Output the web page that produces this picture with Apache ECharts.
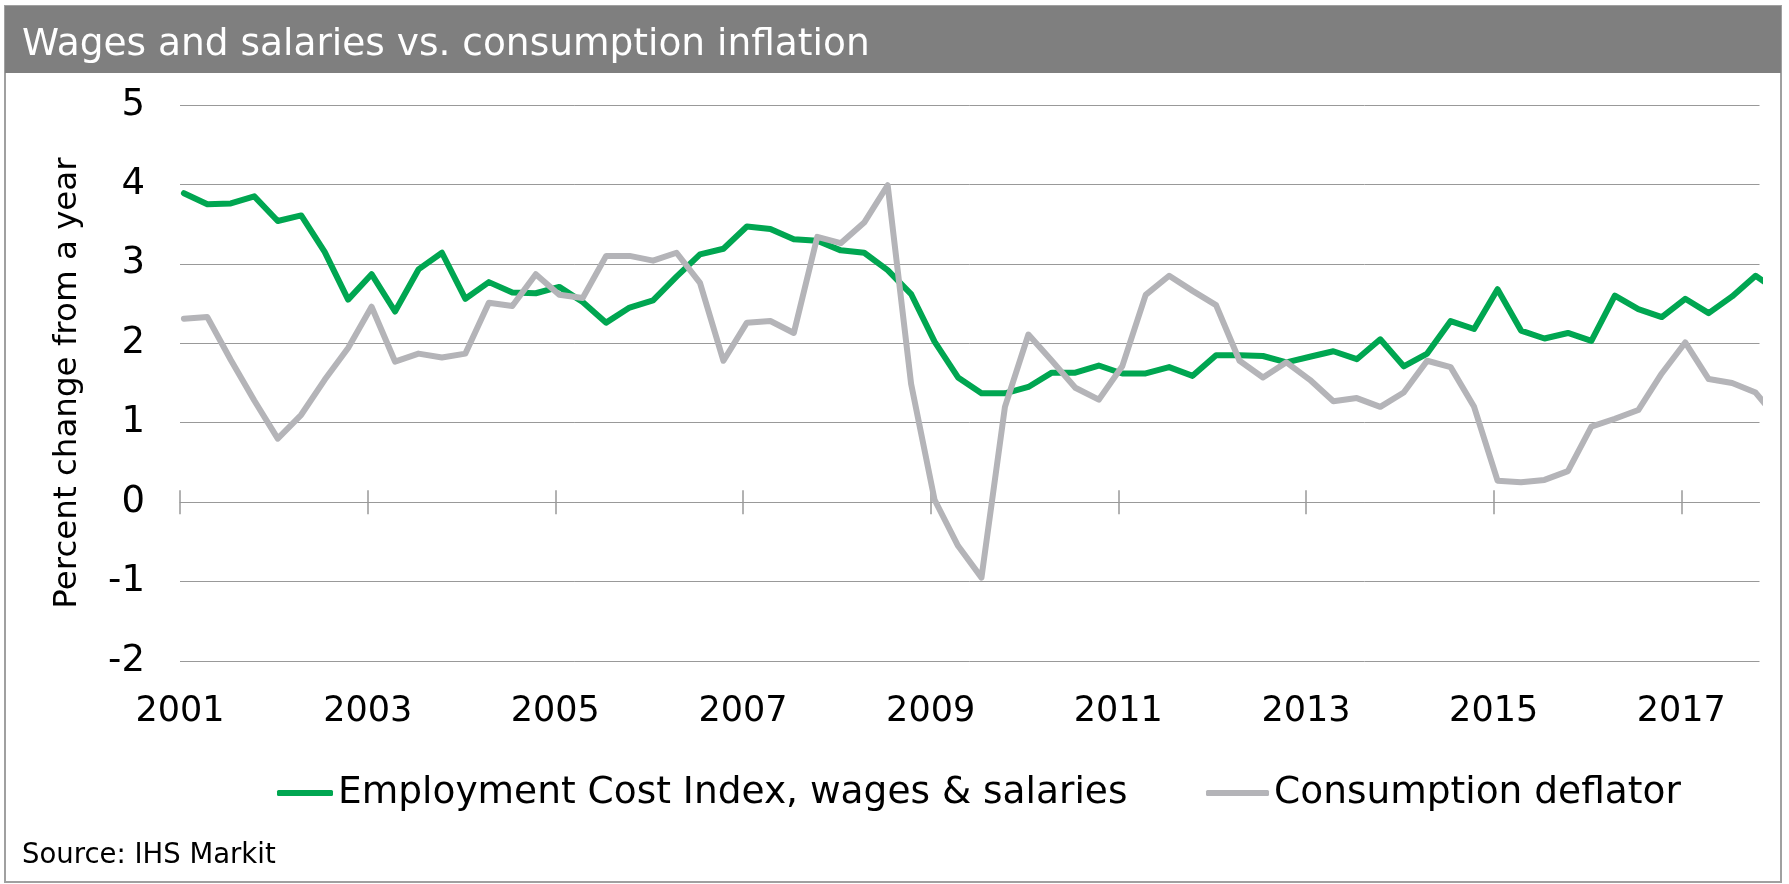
<!DOCTYPE html>
<html>
<head>
<meta charset="utf-8">
<script src="https://cdn.jsdelivr.net/npm/echarts@6/dist/echarts.min.js"></script>
<style>
html,body{margin:0;padding:0;background:#ffffff;}
#chart{width:1789px;height:884px;}
</style>
</head>
<body>
<div id="chart"></div>
<script>
// Quarterly periods, 2001Q1 .. 2018Q1 (the last one is cut by the axis end)
const startYear = 2001;
const endYear = 2018;
const quarters = [];
for (let y = startYear; y <= endYear; y++) {
  for (let q = 1; q <= 4; q++) {
    if (y === endYear && q > 1) break;
    quarters.push(y + 'Q' + q);
  }
}

// Employment Cost Index, wages & salaries (% change from a year)
const eci = [
  3.89, 3.75, 3.76, 3.85,   // 2001
  3.54, 3.61, 3.15, 2.55,   // 2002
  2.87, 2.40, 2.93, 3.14,   // 2003
  2.56, 2.77, 2.64, 2.63,   // 2004
  2.71, 2.52, 2.26, 2.45,   // 2005
  2.54, 2.84, 3.12, 3.19,   // 2006
  3.47, 3.44, 3.31, 3.29,   // 2007
  3.17, 3.14, 2.92, 2.62,   // 2008
  2.02, 1.57, 1.37, 1.37,   // 2009
  1.45, 1.63, 1.63, 1.72,   // 2010
  1.62, 1.62, 1.70, 1.59,   // 2011
  1.85, 1.85, 1.84, 1.76,   // 2012
  1.83, 1.90, 1.80, 2.05,   // 2013
  1.71, 1.87, 2.28, 2.18,   // 2014
  2.68, 2.16, 2.06, 2.13,   // 2015
  2.03, 2.60, 2.43, 2.33,   // 2016
  2.56, 2.38, 2.59, 2.85,   // 2017
  2.65                      // 2018Q1
];

// Consumption deflator (% change from a year)
const deflator = [
  2.31, 2.33, 1.79, 1.28,   // 2001
  0.80, 1.10, 1.54, 1.94,   // 2002
  2.46, 1.77, 1.87, 1.82,   // 2003
  1.87, 2.51, 2.47, 2.87,   // 2004
  2.61, 2.57, 3.10, 3.10,   // 2005
  3.04, 3.14, 2.76, 1.78,   // 2006
  2.26, 2.28, 2.13, 3.34,   // 2007
  3.26, 3.52, 3.99, 1.49,   // 2008
  0.03, -0.55, -0.95, 1.20, // 2009
  2.11, 1.78, 1.44, 1.29,   // 2010
  1.71, 2.61, 2.85, 2.66,   // 2011
  2.48, 1.78, 1.57, 1.76,   // 2012
  1.54, 1.27, 1.31, 1.20,   // 2013
  1.38, 1.78, 1.70, 1.20,   // 2014
  0.27, 0.25, 0.28, 0.39,   // 2015
  0.95, 1.05, 1.16, 1.62,   // 2016
  2.01, 1.55, 1.50, 1.38,   // 2017
  1.02                      // 2018Q1
];

const yTicks = [-2, -1, 0, 1, 2, 3, 4, 5];
const xTickYears = [2001, 2003, 2005, 2007, 2009, 2011, 2013, 2015, 2017];
const axisEndYear = 2017, axisEndMonth = 10; // date axis ends after Oct 2017

const seriesNames = ['Employment Cost Index, wages & salaries', 'Consumption deflator'];
const titleText = 'Wages and salaries vs. consumption inflation';
const yAxisTitle = 'Percent change from a year';
const sourceText = 'Source: IHS Markit';

// years since Jan 2001; each quarter sits mid of its first month (date axis)
function toX(q) {
  const parts = q.split('Q').map(Number);
  return (parts[0] - startYear) + (parts[1] - 1) * 0.25 + 1 / 24;
}
const xMax = (axisEndYear - startYear) + axisEndMonth / 12;
const tickVals = xTickYears.map(y => y - startYear);

const FONT = '"DejaVu Sans", Verdana, sans-serif';
const GREEN = '#00a651';
const GREY = '#b4b4b8';
const GRID = '#999999';

const chart = echarts.init(document.getElementById('chart'), null, {renderer: 'canvas'});

const xBase = {type: 'value', min: 0, max: xMax, interval: 2, splitLine: {show: false}};
const legendText = {fontSize: 37.5, fontFamily: FONT, color: '#000000', lineHeight: 38};

const option = {
  animation: false,
  graphic: [
    {type: 'rect', z: -20, silent: true,
     shape: {x: 5, y: 6, width: 1776, height: 876},
     style: {fill: '#ffffff', stroke: '#a0a0a0', lineWidth: 2}},
    {type: 'rect', z: -19, silent: true,
     shape: {x: 5, y: 6, width: 1776, height: 67},
     style: {fill: '#7f7f7f'}}
  ],
  title: [
    {text: titleText, left: 22, top: 27, padding: 0,
     textStyle: {color: '#ffffff', fontSize: 37.5, fontWeight: 'normal', fontFamily: FONT, lineHeight: 36}},
    {text: sourceText, left: 22, top: 842, padding: 0,
     textStyle: {color: '#000000', fontSize: 27.5, fontWeight: 'normal', fontFamily: FONT, lineHeight: 28}}
  ],
  legend: [
    {data: [seriesNames[0]], left: 277, top: 774, padding: 0,
     icon: 'roundRect', itemWidth: 56, itemHeight: 6, textStyle: legendText},
    {data: [seriesNames[1]], left: 1206, top: 774, padding: 0,
     icon: 'roundRect', itemWidth: 63, itemHeight: 6, textStyle: legendText}
  ],
  grid: {left: 180, right: 29.5, top: 105, bottom: 223, containLabel: false},
  xAxis: [
    Object.assign({}, xBase, {
      position: 'bottom',
      axisLine: {show: false, onZero: false},
      axisTick: {show: false},
      axisLabel: {customValues: tickVals, formatter: v => String(Math.round(v) + startYear),
                  fontSize: 35, fontFamily: FONT, color: '#000000', margin: 33}
    }),
    Object.assign({}, xBase, {
      position: 'bottom',
      axisLine: {show: true, onZero: true, onZeroAxisIndex: 0, lineStyle: {color: GRID, width: 1}},
      axisTick: {show: true, customValues: tickVals, length: 12, inside: false, lineStyle: {color: GRID, width: 1.5}},
      axisLabel: {show: false}
    }),
    Object.assign({}, xBase, {
      position: 'bottom',
      axisLine: {show: false, onZero: true, onZeroAxisIndex: 0},
      axisTick: {show: true, customValues: tickVals, length: 12, inside: true, lineStyle: {color: GRID, width: 1.5}},
      axisLabel: {show: false}
    })
  ],
  yAxis: {
    type: 'value', min: yTicks[0], max: yTicks[yTicks.length - 1], interval: 1,
    name: yAxisTitle, nameLocation: 'middle', nameRotate: 90, nameGap: 96,
    nameTextStyle: {fontSize: 32.5, fontFamily: FONT, color: '#000000'},
    axisLine: {show: false}, axisTick: {show: false},
    axisLabel: {fontSize: 37, fontFamily: FONT, color: '#000000', margin: 35},
    splitLine: {lineStyle: {color: GRID, width: 1}}
  },
  series: [
    {name: seriesNames[0], type: 'line', xAxisIndex: 0, yAxisIndex: 0,
     data: quarters.map((q, i) => [toX(q), eci[i]]),
     symbol: 'none', clip: true, z: 3,
     lineStyle: {color: GREEN, width: 6, cap: 'round', join: 'round'},
     itemStyle: {color: GREEN}},
    {name: seriesNames[1], type: 'line', xAxisIndex: 0, yAxisIndex: 0,
     data: quarters.map((q, i) => [toX(q), deflator[i]]),
     symbol: 'none', clip: true, z: 4,
     lineStyle: {color: GREY, width: 6, cap: 'round', join: 'round'},
     itemStyle: {color: GREY}}
  ]
};
chart.setOption(option);
</script>
</body>
</html>
